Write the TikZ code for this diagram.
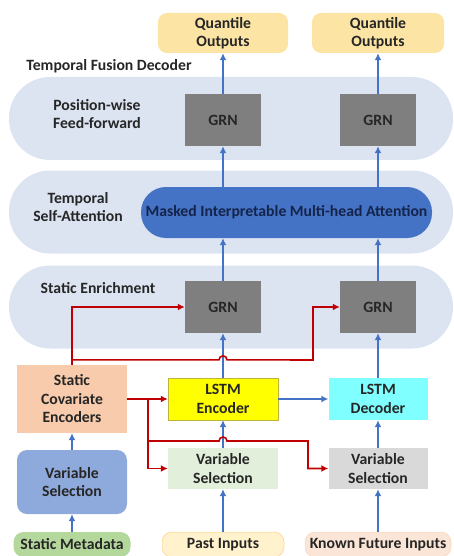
\documentclass[tikz,border=0pt]{standalone}
\usepackage{fontspec}
\setmainfont{Carlito}
\usetikzlibrary{positioning, arrows.meta, calc}

\definecolor{bandBlue}{HTML}{DCE4F2}
\definecolor{quantYellow}{HTML}{FCE4A4}
\definecolor{grnGray}{HTML}{7F7F7F}
\definecolor{attnBlue}{HTML}{4472C4}
\definecolor{attnText}{HTML}{14244A}
\definecolor{scePeach}{HTML}{F8CBAD}
\definecolor{encYellow}{HTML}{FFFF00}
\definecolor{decCyan}{HTML}{7FFFFF}
\definecolor{vsGreen}{HTML}{E2EFDA}
\definecolor{vsGray}{HTML}{D9D9D9}
\definecolor{vsBlue}{HTML}{8EA9DB}
\definecolor{metaGreen}{HTML}{B4D89C}
\definecolor{pastYellow}{HTML}{FFF2CC}
\definecolor{futPink}{HTML}{FBE5D6}
\definecolor{redLine}{HTML}{C00000}
\definecolor{blueLine}{HTML}{4472C4}
\definecolor{txtDark}{HTML}{262626}

\tikzset{
  lbl/.style={font=\bfseries\fontsize{15.7}{18.5}\selectfont, text=txtDark, align=center},
  box/.style={lbl, inner sep=0pt, draw=none},
  band/.style={fill=bandBlue, minimum width=444pt, minimum height=83pt, rounded corners=41pt, inner sep=0pt},
  grn/.style={box, fill=grnGray, minimum width=76pt, minimum height=52pt},
  blueArrow/.style={draw=blueLine, line width=1.6pt, -{Latex[length=7pt,width=7pt]}},
  redArrow/.style={draw=redLine, line width=1.6pt, -{Latex[length=7pt,width=7pt]}},
  redLink/.style={draw=redLine, line width=1.6pt}
}

\begin{document}
\begin{tikzpicture}[x=1pt, y=-1pt]
\useasboundingbox (0,0) rectangle (454,556);

%Bands
\node[band] (bandFF) at (231,118.5) {};
\node[band] (bandAttn) at (231,212) {};
\node[band] (bandEnr) at (231,307) {};

%Band labels
\node[lbl] (decoderLabel) at (109,66) {Temporal Fusion Decoder};
\node[lbl] (ffLabel) at (97,114) {Position-wise\\Feed-forward};
\node[lbl] (attnLabel) at (78,207) {Temporal\\Self-Attention};
\node[lbl] (enrLabel) at (98,288) {Static Enrichment};

%Outputs
\node[box, fill=quantYellow, rounded corners=9pt, minimum width=130pt, minimum height=40pt] (quantA) at (223,33) {Quantile\\Outputs};
\node[box, fill=quantYellow, rounded corners=9pt, minimum width=132pt, minimum height=40pt] (quantB) at (378,33) {Quantile\\Outputs};

%Position-wise GRNs
\node[grn] (grnFA) at (223,120) {GRN};
\node[grn] (grnFB) at (378,120) {GRN};

%Attention
\node[box, fill=attnBlue, text=attnText, rounded corners=25pt, minimum width=291pt, minimum height=51pt] (attn) at (286.5,212.5) {Masked Interpretable Multi-head Attention};

%Enrichment GRNs
\node[grn] (grnEA) at (223,307) {GRN};
\node[grn] (grnEB) at (378,307) {GRN};

%Static covariate encoders
\node[box, fill=scePeach, minimum width=110pt, minimum height=68pt] (sce) at (72,399) {Static\\Covariate\\Encoders};

%LSTM
\node[box, fill=encYellow, draw=yellow!70!black, line width=0.4pt, minimum width=110pt, minimum height=42pt] (lstmEnc) at (223,399) {LSTM\\Encoder};
\node[box, fill=decCyan, minimum width=99pt, minimum height=42pt] (lstmDec) at (378,399) {LSTM\\Decoder};

%Variable selection
\node[box, fill=vsGreen, minimum width=110pt, minimum height=41pt] (vsPast) at (223,468.5) {Variable\\Selection};
\node[box, fill=vsGray, minimum width=99pt, minimum height=41pt] (vsFut) at (378,468.5) {Variable\\Selection};
\node[box, fill=vsBlue, rounded corners=10pt, minimum width=110pt, minimum height=64pt] (vsStat) at (72,482) {Variable\\Selection};

%Inputs
\node[box, fill=metaGreen, rounded corners=10pt, minimum width=117pt, minimum height=25pt] (meta) at (72,544.5) {Static Metadata};
\node[box, fill=pastYellow, draw=quantYellow!80!orange, line width=0.5pt, rounded corners=10pt, minimum width=122pt, minimum height=25pt] (past) at (223,544.5) {Past Inputs};
\node[box, fill=futPink, draw=scePeach!80!white, line width=0.5pt, rounded corners=10pt, minimum width=146pt, minimum height=25pt] (future) at (378,544.5) {Known Future Inputs};

%Blue links
\draw[blueArrow] (meta.north) -- (vsStat.south);
\draw[blueArrow] (vsStat.north) -- (sce.south);
\draw[blueArrow] (past.north) -- (vsPast.south);
\draw[blueArrow] (future.north) -- (vsFut.south);
\draw[blueArrow] (vsPast.north) -- (lstmEnc.south);
\draw[blueArrow] (vsFut.north) -- (lstmDec.south);
\draw[blueArrow] (lstmEnc.east) -- (lstmDec.west);
\draw[blueArrow] (lstmEnc.north) -- (grnEA.south);
\draw[blueArrow] (lstmDec.north) -- (grnEB.south);
\draw[blueArrow] (grnEA.north) -- (grnEA.north |- attn.south);
\draw[blueArrow] (grnEB.north) -- (grnEB.north |- attn.south);
\draw[blueArrow] (grnFA.north |- attn.north) -- (grnFA.south);
\draw[blueArrow] (grnFB.north |- attn.north) -- (grnFB.south);
\draw[blueArrow] (grnFA.north) -- (quantA.south);
\draw[blueArrow] (grnFB.north) -- (quantB.south);

%Red links, upper
\coordinate (upSplit) at ($(sce.north)+(0,-5)$);
\draw[redArrow] (sce.north) |- (grnEA.west);
\draw[redArrow] (upSplit) -- ($(upSplit -| lstmEnc.north)+(-4,0)$) arc (180:360:4)
  -- (313,360) |- (grnEB.west);

%Red links, lower
\coordinate (lowSplit) at (148,399);
\draw[redArrow] (sce.east) -- (lstmEnc.west);
\draw[redArrow] (lowSplit) |- (vsPast.west);
\draw[redArrow] (148,441) -- ($(148,441 -| lstmEnc.south)+(-4,0)$) arc (180:360:4)
  -- (308,441) |- (vsFut.west);

\end{tikzpicture}
\end{document}
